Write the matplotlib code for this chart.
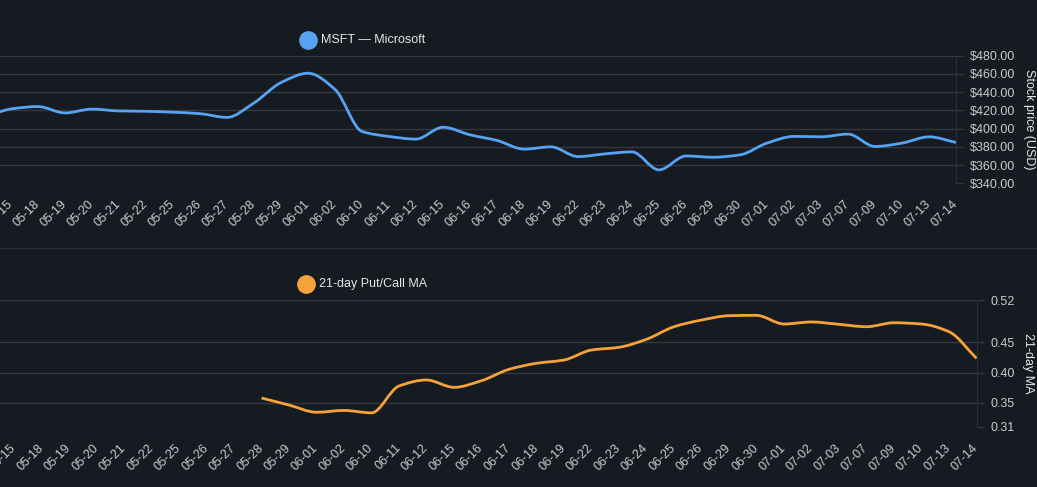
import numpy as np
import matplotlib
matplotlib.use("Agg")
import matplotlib.pyplot as plt
from matplotlib.path import Path
from matplotlib.patches import PathPatch
from matplotlib.ticker import FuncFormatter

plt.rcParams['font.family'] = ['Liberation Sans', 'DejaVu Sans']

# categories (trading days); first one sits just off the left edge
dates = ['05-14', '05-15', '05-18', '05-19', '05-20', '05-21', '05-22', '05-25',
         '05-26', '05-27', '05-28', '05-29', '06-01', '06-02', '06-10', '06-11',
         '06-12', '06-15', '06-16', '06-17', '06-18', '06-19', '06-22', '06-23',
         '06-24', '06-25', '06-26', '06-29', '06-30', '07-01', '07-02', '07-03',
         '07-07', '07-09', '07-10', '07-13', '07-14']

msft_price = [412, 421.6, 424.2, 417.2, 421.4, 419.4, 419.0, 418.0,
              416.4, 412.3, 428.2, 450.5, 460.8, 443.0, 396.9, 391.4,
              388.5, 401.5, 393.2, 387.0, 377.5, 380.0, 369.3, 372.3,
              374.5, 354.7, 370.0, 368.6, 371.2, 384.1, 391.5, 391.0,
              394.0, 380.4, 384.1, 391.0, 384.8]

pc_ma = [None, None, None, None, None, None, None, None,
         None, None, 0.3577, 0.346, 0.334, 0.337, 0.333, 0.3776,
         0.3876, 0.3754, 0.3864, 0.4053, 0.4153, 0.4208, 0.4374, 0.4419,
         0.4552, 0.4761, 0.4872, 0.4944, 0.495, 0.4806, 0.484, 0.4801,
         0.4761, 0.4827, 0.4806, 0.4678, 0.4236]

price_ticks = [340, 360, 380, 400, 420, 440, 460, 480]
ma_ticks = [0.31, 0.35, 0.40, 0.45, 0.52]

BG = '#161a21'
GRID = '#34383f'
TXT = '#c9cbd0'
BLUE = '#58a2f4'
ORANGE = '#f5a23a'

W, H = 1037, 487
fig = plt.figure(figsize=(W / 100, H / 100), dpi=100)
fig.patch.set_facecolor(BG)


def px_axes(left, right, top, bottom):
    return fig.add_axes([left / W, (H - bottom) / H, (right - left) / W, (bottom - top) / H])


def smooth_path(x, y):
    # monotone cubic (Fritsch-Carlson) as bezier segments
    x = np.asarray(x, float)
    y = np.asarray(y, float)
    h = np.diff(x)
    d = np.diff(y) / h
    m = np.zeros_like(y)
    m[0], m[-1] = d[0], d[-1]
    for i in range(1, len(y) - 1):
        if d[i - 1] * d[i] <= 0:
            m[i] = 0
        else:
            m[i] = 2 / (1 / d[i - 1] + 1 / d[i])
    verts = [(x[0], y[0])]
    codes = [Path.MOVETO]
    for i in range(len(x) - 1):
        verts += [(x[i] + h[i] / 3, y[i] + m[i] * h[i] / 3),
                  (x[i + 1] - h[i] / 3, y[i + 1] - m[i + 1] * h[i] / 3),
                  (x[i + 1], y[i + 1])]
        codes += [Path.CURVE4] * 3
    return Path(verts, codes)


def style(ax, ticks, ylim, fmt, ylabel):
    ax.set_facecolor(BG)
    idx = np.arange(len(dates))
    ax.set_xlim(0, len(dates) - 1)
    ax.set_ylim(*ylim)
    ax.set_xticks(idx)
    ax.set_xticklabels(dates, rotation=45, ha='right', va='center',
                       rotation_mode='anchor', fontsize=9, color=TXT)
    ax.tick_params(axis='x', length=0, pad=14)
    ax.yaxis.tick_right()
    ax.yaxis.set_label_position('right')
    ax.set_yticks(ticks)
    ax.yaxis.set_major_formatter(FuncFormatter(fmt))
    ax.tick_params(axis='y', length=5, width=1, color=GRID, pad=5,
                   labelsize=9, labelcolor=TXT)
    ax.grid(axis='y', color=GRID, linewidth=1)
    ax.set_axisbelow(True)
    for s in ['top', 'left', 'bottom']:
        ax.spines[s].set_visible(False)
    ax.spines['right'].set_color('#2a2e35')
    ax.set_ylabel(ylabel, rotation=270, color='#e8e8e8', fontsize=9, labelpad=14)


# price panel
ax1 = px_axes(-16, 956, 55.7, 183.3)
style(ax1, price_ticks, (340, 480), lambda v, p: f'${v:,.2f}', 'Stock price (USD)')
ax1.add_patch(PathPatch(smooth_path(np.arange(len(dates)), msft_price),
                        fill=False, edgecolor=BLUE, linewidth=2))

# put/call panel
ax2 = px_axes(-13.5, 976.5, 300.3, 426.7)
style(ax2, ma_ticks, (0.31, 0.52), lambda v, p: f'{v:.2f}', '21-day MA')
valid = [i for i, v in enumerate(pc_ma) if v is not None]
ax2.add_patch(PathPatch(smooth_path(valid, [pc_ma[i] for i in valid]),
                        fill=False, edgecolor=ORANGE, linewidth=2))

# legends
for cx, cy, col, label in [(308, 40, BLUE, 'MSFT — Microsoft'),
                           (306, 284, ORANGE, '21-day Put/Call MA')]:
    fig.add_artist(plt.Line2D([cx / W], [(H - cy) / H], transform=fig.transFigure,
                              marker='o', markersize=13.5, markerfacecolor=col,
                              markeredgecolor='none', linestyle='none'))
    fig.text((cx + 13) / W, (H - cy) / H, label, color='#e6e6e6', fontsize=9,
             ha='left', va='center')

# separator between panels
fig.add_artist(plt.Line2D([0, 1], [(H - 247.5) / H] * 2, transform=fig.transFigure,
                          color='#2a2e35', linewidth=1))

fig.savefig('out.png', dpi=100, facecolor=BG)
